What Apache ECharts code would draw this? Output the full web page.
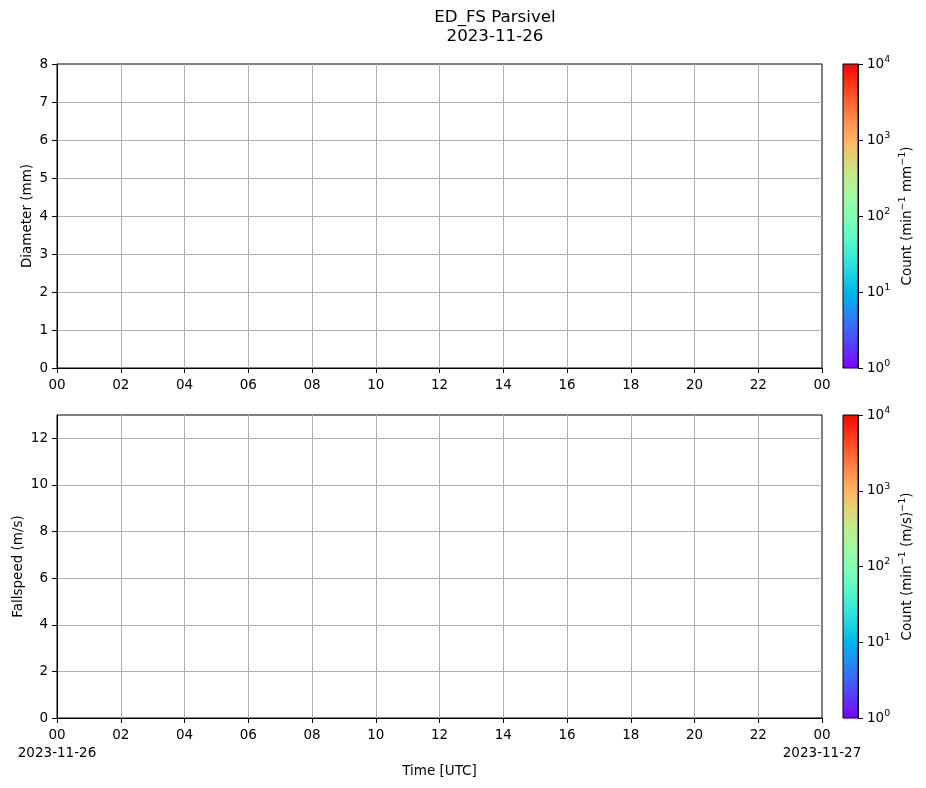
<!DOCTYPE html>
<html>
<head>
<meta charset="utf-8">
<script src="https://cdn.jsdelivr.net/npm/echarts@6/dist/echarts.min.js"></script>
<style>
  html, body { margin: 0; padding: 0; background: #fff; }
  #main { width: 926px; height: 788px; }
</style>
</head>
<body>
<div id="main"></div>
<script>
// hours of the day shown on the time axes (UTC)
var hourTicks = [0, 2, 4, 6, 8, 10, 12, 14, 16, 18, 20, 22, 24]
var startDate = '2023-11-26'
var endDate = '2023-11-27'
// axis ranges
var diameterRange = [0, 8]
var fallspeedRange = [0, 13]
var countRange = [1, 10000]
// no drops were recorded this day: both spectra are empty
var diameterCounts = []
var fallspeedCounts = []

var font = 'DejaVu Sans'

// matplotlib "rainbow" colormap, sampled for the colorbar gradient
function rainbow(x) {
  var r = Math.min(1, Math.abs(2 * x - 0.5))
  var g = Math.sin(Math.PI * x)
  var b = Math.cos(Math.PI * x / 2)
  return 'rgb(' + Math.round(r * 255) + ',' + Math.round(g * 255) + ',' + Math.round(b * 255) + ')'
}
var stops = []
for (var i = 0; i <= 32; i++) {
  stops.push({ offset: i / 32, color: rainbow(1 - i / 32) })
}
var gradient = new echarts.graphic.LinearGradient(0, 0, 0, 1, stops)

function hourLabel(v, withDate) {
  var h = v % 24
  var s = (h < 10 ? '0' : '') + h
  if (withDate) {
    if (v === 0) s += '\n' + startDate
    if (v === 24) s += '\n' + endDate
  }
  return s
}

function timeAxis(gridIndex, withDate) {
  return {
    type: 'value', gridIndex: gridIndex,
    min: hourTicks[0], max: hourTicks[hourTicks.length - 1], interval: 2,
    axisLine: { show: true, onZero: false, lineStyle: { color: '#000', width: 1 } },
    axisTick: { show: true, length: 5, lineStyle: { color: '#000' } },
    axisLabel: {
      color: '#000', fontSize: 13.5, fontFamily: font, margin: 8, lineHeight: 18,
      formatter: function (v) { return hourLabel(v, withDate) }
    },
    splitLine: { show: true, showMinLine: false, showMaxLine: false, lineStyle: { color: '#b0b0b0', width: 1 } },
    name: withDate ? 'Time [UTC]' : '',
    nameLocation: 'middle', nameGap: 46, nameMoveOverlap: false,
    nameTextStyle: { color: '#000', fontSize: 13.5, fontFamily: font }
  }
}

function valueAxis(gridIndex, range, interval, name, gap) {
  return {
    type: 'value', gridIndex: gridIndex,
    min: range[0], max: range[1], interval: interval,
    axisLine: { show: true, onZero: false, lineStyle: { color: '#000', width: 1 } },
    axisTick: { show: true, length: 5, lineStyle: { color: '#000' } },
    axisLabel: { color: '#000', fontSize: 13.5, fontFamily: font, margin: 9, showMaxLabel: range[1] % interval === 0 },
    splitLine: { show: true, showMinLine: false, showMaxLine: false, lineStyle: { color: '#b0b0b0', width: 1 } },
    name: name, nameLocation: 'middle', nameGap: gap, nameRotate: 90, nameMoveOverlap: false,
    nameTextStyle: { color: '#000', fontSize: 13.5, fontFamily: font }
  }
}

var rich = {
  b: { fontSize: 13.5, fontFamily: font, color: '#000' },
  s: { fontSize: 9.5, fontFamily: font, color: '#000', padding: [0, 0, 9, 0] }
}

function colorAxis(gridIndex, name) {
  return {
    type: 'log', gridIndex: gridIndex, position: 'right', logBase: 10,
    min: countRange[0], max: countRange[1],
    axisLine: { show: true, lineStyle: { color: '#000' } },
    axisTick: { show: true, length: 5, inside: false, lineStyle: { color: '#000' } },
    splitLine: { show: false },
    axisLabel: {
      margin: 9, rich: rich,
      formatter: function (v) {
        return '{b|10}{s|' + Math.round(Math.log10(v)) + '}'
      }
    },
    name: name, nameLocation: 'middle', nameGap: 40, nameRotate: 90,
    nameTextStyle: { color: '#000', fontSize: 13.5, fontFamily: font, rich: rich }
  }
}

function makeGrid(top, height, left, width, bg) {
  return {
    left: left, top: top, width: width, height: height,
    show: true, borderColor: '#000', borderWidth: 1, backgroundColor: bg,
    containLabel: false, outerBoundsMode: 'none'
  }
}

var chart = echarts.init(document.getElementById('main'))
chart.setOption({
  backgroundColor: '#fff',
  animation: false,
  title: {
    text: 'ED_FS Parsivel\n' + startDate,
    left: 490, top: 3, textAlign: 'center',
    textStyle: { color: '#000', fontSize: 16.7, fontWeight: 'normal', fontFamily: font, lineHeight: 19 }
  },
  grid: [
    makeGrid(64, 304, 57, 765, '#fff'),
    makeGrid(415, 303, 57, 765, '#fff'),
    makeGrid(64, 304, 843, 15, gradient),
    makeGrid(415, 303, 843, 15, gradient)
  ],
  xAxis: [
    timeAxis(0, false),
    timeAxis(1, true),
    { type: 'category', gridIndex: 2, data: [''], show: false },
    { type: 'category', gridIndex: 3, data: [''], show: false }
  ],
  yAxis: [
    valueAxis(0, diameterRange, 1, 'Diameter (mm)', 23),
    valueAxis(1, fallspeedRange, 2, 'Fallspeed (m/s)', 32),
    colorAxis(2, 'Count (min{s|−1} mm{s|−1})'),
    colorAxis(3, 'Count (min{s|−1} (m/s){s|−1})')
  ],
  series: [
    { type: 'scatter', xAxisIndex: 0, yAxisIndex: 0, data: diameterCounts },
    { type: 'scatter', xAxisIndex: 1, yAxisIndex: 1, data: fallspeedCounts }
  ]
})
</script>
</body>
</html>
